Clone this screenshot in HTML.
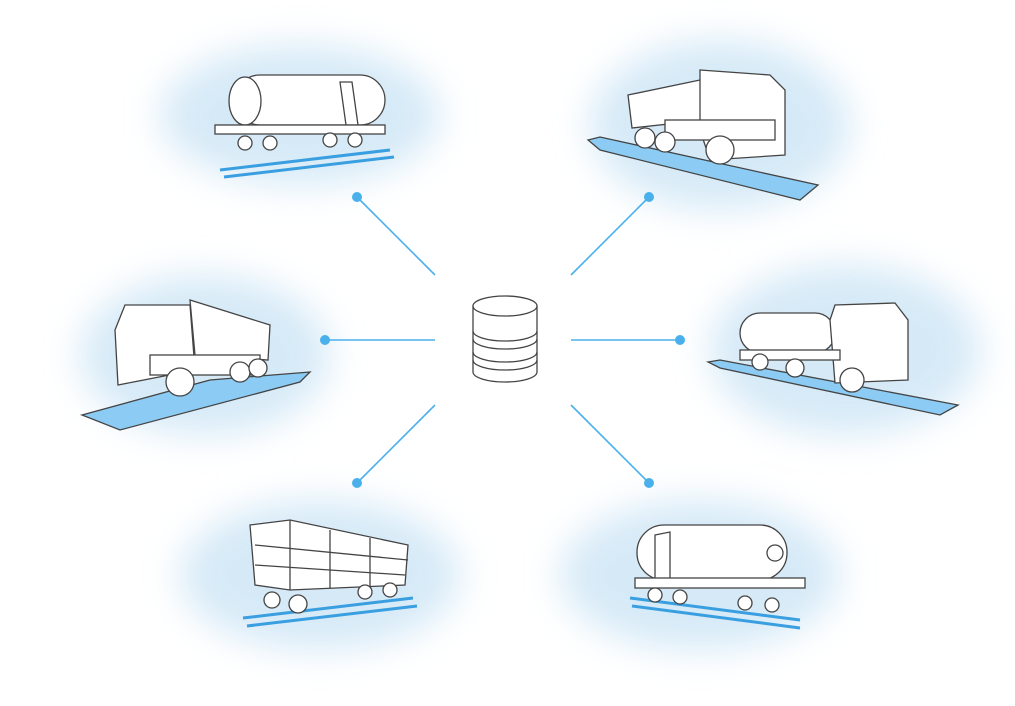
<!DOCTYPE html>
<html><head><meta charset="utf-8"><style>
html,body{margin:0;padding:0;background:#fff;}
svg{display:block}
</style></head><body>
<svg width="1015" height="706" viewBox="0 0 1015 706" xmlns="http://www.w3.org/2000/svg">
<defs>
<filter id="b" x="-50%" y="-50%" width="200%" height="200%"><feGaussianBlur stdDeviation="18"/></filter>
</defs>
<g filter="url(#b)" fill="#cfe6f6" opacity="0.85">
<ellipse cx="300" cy="115" rx="140" ry="70"/>
<ellipse cx="720" cy="125" rx="130" ry="85"/>
<ellipse cx="205" cy="355" rx="125" ry="80"/>
<ellipse cx="845" cy="350" rx="135" ry="85"/>
<ellipse cx="320" cy="575" rx="140" ry="75"/>
<ellipse cx="700" cy="575" rx="140" ry="75"/>
</g>
<g stroke="#4ab0ec" stroke-width="1.6" fill="none">
<line x1="435" y1="275" x2="357" y2="197"/>
<line x1="571" y1="275" x2="649" y2="197"/>
<line x1="435" y1="340" x2="325" y2="340"/>
<line x1="571" y1="340" x2="680" y2="340"/>
<line x1="435" y1="405" x2="357" y2="483"/>
<line x1="571" y1="405" x2="649" y2="483"/>
</g>
<g fill="#4ab0ec">
<circle cx="357" cy="197" r="5"/><circle cx="649" cy="197" r="5"/>
<circle cx="325" cy="340" r="5"/><circle cx="680" cy="340" r="5"/>
<circle cx="357" cy="483" r="5"/><circle cx="649" cy="483" r="5"/>
</g>
<g stroke="#444" stroke-width="1.3" fill="#fff">
<path d="M473 306 V372 A32 10 0 0 0 537 372 V306"/>
<ellipse cx="505" cy="306" rx="32" ry="10"/>
<path d="M473 331 A32 10 0 0 0 537 331 M473 339 A32 10 0 0 0 537 339 M473 352 A32 10 0 0 0 537 352 M473 360 A32 10 0 0 0 537 360" fill="none"/>
</g>
<!-- top-left tank car -->
<g stroke="#444" stroke-width="1.3" fill="#fff">
<path d="M220 170 L390 150 M224 177 L394 157" stroke="#3a9fe0" stroke-width="3"/>
<rect x="235" y="75" width="150" height="50" rx="25"/>
<ellipse cx="245" cy="101" rx="16" ry="24"/>
<path d="M340 82 L352 82 L358 125 L346 125Z"/>
<rect x="215" y="125" width="170" height="9"/>
<circle cx="245" cy="143" r="7"/><circle cx="270" cy="143" r="7"/><circle cx="330" cy="140" r="7"/><circle cx="355" cy="140" r="7"/>
</g>
<!-- top-right dump truck -->
<g stroke="#444" stroke-width="1.3" fill="#fff">
<path d="M588 140 L600 137 L818 185 L800 200 L600 150Z" fill="#8cccf4"/>
<path d="M628 95 L700 80 L705 120 L632 128Z"/>
<path d="M700 70 L770 75 L785 90 L785 155 L710 160 L700 130Z"/>
<rect x="665" y="120" width="110" height="20"/>
<circle cx="645" cy="138" r="10"/><circle cx="665" cy="142" r="10"/><circle cx="720" cy="150" r="14"/>
</g>
<!-- left dump truck -->
<g stroke="#444" stroke-width="1.3" fill="#fff">
<path d="M82 415 L210 380 L310 372 L300 382 L120 430Z" fill="#8cccf4"/>
<path d="M190 300 L270 325 L268 360 L195 355Z"/>
<path d="M115 330 L125 305 L190 305 L195 370 L118 385Z"/>
<rect x="150" y="355" width="110" height="20"/>
<circle cx="180" cy="382" r="14"/><circle cx="240" cy="372" r="10"/><circle cx="258" cy="368" r="9"/>
</g>
<!-- right tanker truck -->
<g stroke="#444" stroke-width="1.3" fill="#fff">
<path d="M708 362 L720 360 L958 405 L940 415 L720 368Z" fill="#8cccf4"/>
<rect x="740" y="313" width="95" height="40" rx="20"/>
<path d="M830 320 L835 305 L895 303 L908 320 L908 380 L835 383Z"/>
<rect x="740" y="350" width="100" height="10"/>
<circle cx="760" cy="362" r="8"/><circle cx="795" cy="368" r="9"/><circle cx="852" cy="380" r="12"/>
</g>
<!-- bottom-left boxcar -->
<g stroke="#444" stroke-width="1.3" fill="#fff">
<path d="M243 618 L413 598 M247 626 L417 606" stroke="#3a9fe0" stroke-width="3"/>
<path d="M250 525 L290 520 L408 545 L405 585 L290 590 L255 585Z"/>
<path d="M290 520 V590 M330 530 V588 M370 538 V586 M255 545 L408 560 M255 565 L405 575" fill="none"/>
<circle cx="272" cy="600" r="8"/><circle cx="298" cy="604" r="9"/><circle cx="365" cy="592" r="7"/><circle cx="390" cy="590" r="7"/>
</g>
<!-- bottom-right tank car -->
<g stroke="#444" stroke-width="1.3" fill="#fff">
<path d="M630 598 L800 620 M632 606 L800 628" stroke="#3a9fe0" stroke-width="3"/>
<rect x="637" y="525" width="150" height="55" rx="27"/>
<circle cx="775" cy="553" r="8"/>
<path d="M655 535 L670 532 L670 580 L655 578Z"/>
<rect x="635" y="578" width="170" height="10"/>
<circle cx="655" cy="595" r="7"/><circle cx="680" cy="597" r="7"/><circle cx="745" cy="603" r="7"/><circle cx="772" cy="605" r="7"/>
</g>
</svg>
</body></html>
